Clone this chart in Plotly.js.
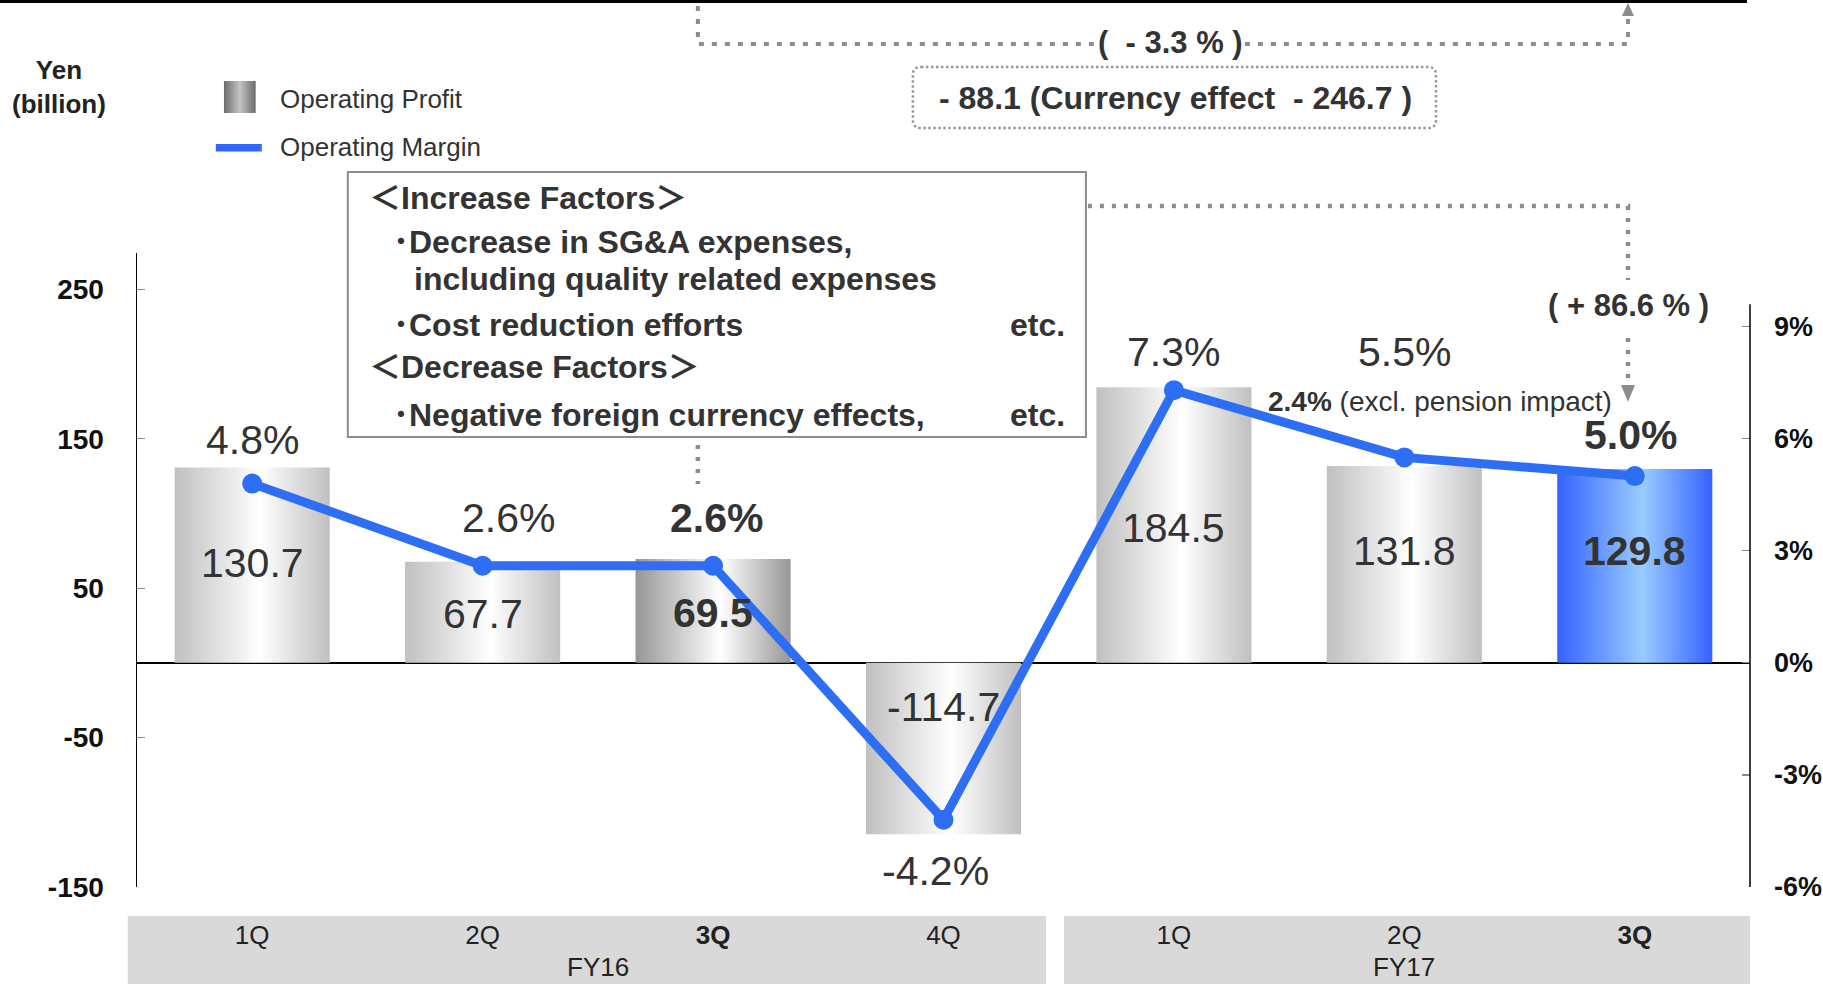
<!DOCTYPE html>
<html>
<head>
<meta charset="utf-8">
<script src="https://cdn.plot.ly/plotly-3.0.1.min.js"></script>
<style>
  html, body { margin: 0; padding: 0; background: #ffffff; }
  #chart { width: 1823px; height: 984px; }
</style>
</head>
<body>
<div id="chart"></div>
<script>
// ---------------- DATA ----------------
const quarters = ['1Q', '2Q', '3Q', '4Q', '1Q', '2Q', '3Q'];
const fiscalYears = ['FY16', 'FY16', 'FY16', 'FY16', 'FY17', 'FY17', 'FY17'];
const operatingProfit = [130.7, 67.7, 69.5, -114.7, 184.5, 131.8, 129.8];
const operatingMargin = [4.8, 2.6, 2.6, -4.2, 7.3, 5.5, 5.0];
const leftTickValues = [-150, -50, 50, 150, 250];
const rightTickValues = [-6, -3, 0, 3, 6, 9];
const factorLines = [
  '＜Increase Factors＞',
  '･Decrease in SG&A expenses,',
  'including quality related expenses',
  '･Cost reduction efforts',
  '＜Decrease Factors＞',
  '･Negative foreign currency effects,'
];
const yoyChangeText = '(\u00a0\u00a0- 3.3 %\u00a0)';
const currencyText = '- 88.1 (Currency effect\u00a0\u00a0- 246.7 )';
const qoqChangeText = '( + 86.6 % )';
const pensionText = '<b>2.4%</b> (excl. pension impact)';

// ---------------- LAYOUT HELPERS ----------------
const L = 137.2, R = 1750, T = 253, B = 887;
const px = x => (x - L) / (R - L);
const py = y => (B - y) / (B - T);
const FONT = 'Liberation Sans, Arial, Helvetica, sans-serif';
const CJKFONT = 'Liberation Sans, Arial, Noto Sans CJK JP, sans-serif';
const TXT = '#333333';
const LINE_BLUE = '#2d6ef5';
const DOT_GREY = '#8c8c8c';
const isHighlight = quarters.map(q => q === '3Q');

// style-only offsets for labels (pixels)
const profitLabelShift = [2, -2, -2, 42, -3, 13, 15];
const marginLabelShiftY = [44, 48, 48, -51, 38, 105, 41];
const marginLabelShiftX = [0, 26, 3, -8, 0, 0, -4];

const Y_RANGE = [-150, 274.3];
const RATIO = 25; // 25 yen billion per 1%

const xIdx = quarters.map((_, i) => i);

const traces = [
  {
    type: 'bar',
    x: xIdx,
    y: operatingProfit,
    width: 0.673,
    marker: { color: quarters.map((q, i) => i === 6 ? '#5b8cff' : (isHighlight[i] ? '#b0b0b0' : '#d6d6d6')), line: { width: 0 } },
    hoverinfo: 'skip',
    showlegend: false
  },
  {
    type: 'scatter',
    mode: 'lines+markers',
    x: xIdx,
    y: operatingMargin,
    yaxis: 'y2',
    line: { color: LINE_BLUE, width: 9 },
    marker: { color: LINE_BLUE, size: 20 },
    hoverinfo: 'skip',
    showlegend: false,
    cliponaxis: false
  }
];

// ---------------- SHAPES ----------------
function roundRectPath(x0, y0, x1, y1, r) {
  const P = (x, y) => px(x) + ',' + py(y);
  return 'M' + P(x0 + r, y0) + ' L' + P(x1 - r, y0) + ' Q' + P(x1, y0) + ' ' + P(x1, y0 + r) +
    ' L' + P(x1, y1 - r) + ' Q' + P(x1, y1) + ' ' + P(x1 - r, y1) +
    ' L' + P(x0 + r, y1) + ' Q' + P(x0, y1) + ' ' + P(x0, y1 - r) +
    ' L' + P(x0, y0 + r) + ' Q' + P(x0, y0) + ' ' + P(x0 + r, y0) + ' Z';
}
function pathP(points, close) {
  return points.map((p, i) => (i ? 'L' : 'M') + px(p[0]) + ',' + py(p[1])).join(' ') + (close ? ' Z' : '');
}

const shapes = [
  // slide header line
  { type: 'line', xref: 'paper', yref: 'paper', x0: px(0), x1: px(1747), y0: py(1.5), y1: py(1.5), line: { color: '#000', width: 3 } },
  // category bands
  { type: 'rect', xref: 'paper', yref: 'paper', x0: px(128), x1: px(1046), y0: py(916), y1: py(984), fillcolor: '#d9d9d9', line: { width: 0 }, layer: 'below' },
  { type: 'rect', xref: 'paper', yref: 'paper', x0: px(1064), x1: px(1750), y0: py(916), y1: py(984), fillcolor: '#d9d9d9', line: { width: 0 }, layer: 'below' },
  // right axis line
  { type: 'line', xref: 'paper', yref: 'y2', x0: 1, x1: 1, y0: -6, y1: 9.6, line: { color: '#000', width: 1.5 } },
  // YoY bracket
  { type: 'path', xref: 'paper', yref: 'paper', path: pathP([[698, 6], [698, 44], [1628, 44], [1628, 15]]), line: { color: DOT_GREY, width: 4, dash: '5px,8px' } },
  { type: 'path', xref: 'paper', yref: 'paper', path: pathP([[1622, 16], [1628, 3], [1634, 16]], true), fillcolor: DOT_GREY, line: { width: 0 } },
  // currency box
  { type: 'path', xref: 'paper', yref: 'paper', path: roundRectPath(913, 67, 1436, 128, 8), line: { color: '#999999', width: 2.5, dash: '2.5px,2.5px' } },
  // factors box
  { type: 'rect', xref: 'paper', yref: 'paper', x0: px(348), x1: px(1086), y0: py(172), y1: py(437), fillcolor: '#ffffff', line: { color: '#8c8c8c', width: 2 } },
  // connector from box to FY17 3Q
  { type: 'path', xref: 'paper', yref: 'paper', path: pathP([[1088, 206], [1628, 206], [1628, 280]]), line: { color: DOT_GREY, width: 4.5, dash: '4px,8px' } },
  { type: 'path', xref: 'paper', yref: 'paper', path: pathP([[1628, 338], [1628, 386]]), line: { color: DOT_GREY, width: 4.5, dash: '4px,8px' } },
  { type: 'path', xref: 'paper', yref: 'paper', path: pathP([[1621, 385], [1635, 385], [1628, 402]], true), fillcolor: DOT_GREY, line: { width: 0 } },
  // connector from box to FY16 3Q
  { type: 'path', xref: 'paper', yref: 'paper', path: pathP([[698, 445], [698, 484]]), line: { color: DOT_GREY, width: 4.5, dash: '4px,8px' } },
  // legend line symbol
  { type: 'rect', xref: 'paper', yref: 'paper', x0: px(216), x1: px(262), y0: py(144), y1: py(151.5), fillcolor: '#3366ff', line: { width: 0 } }
];

// ---------------- ANNOTATIONS ----------------
const ann = [];
function addText(text, x, y, opts) {
  ann.push(Object.assign({
    text: text, xref: 'paper', yref: 'paper', x: px(x), y: py(y),
    showarrow: false, xanchor: 'center', yanchor: 'middle',
    font: { family: FONT, size: 26, color: TXT }
  }, opts || {}));
}
addText('<b>Yen<br>(billion)</b>', 59, 87, { font: { family: FONT, size: 26, color: '#222' } });
addText('Operating Profit', 278, 99, { xanchor: 'left' });
addText('Operating Margin', 278, 147, { xanchor: 'left' });
addText('<b>' + yoyChangeText + '</b>', 1171, 42, { font: { family: FONT, size: 31, color: TXT }, bgcolor: '#ffffff', borderpad: 0 });
addText('<b>' + currencyText + '</b>', 1176, 98, { font: { family: FONT, size: 32, color: TXT } });
addText('<b>' + qoqChangeText + '</b>', 1629, 305, { font: { family: FONT, size: 31, color: TXT } });
addText(pensionText, 1266, 401, { xanchor: 'left', font: { family: FONT, size: 28, color: TXT } });

const factorX = [367, 391, 412, 391, 367, 391];
const factorY = [198, 242, 279, 325, 367, 415];
factorLines.forEach((t, i) => {
  addText('<b>' + t + '</b>', factorX[i], factorY[i], { xanchor: 'left', font: { family: CJKFONT, size: 32, color: TXT } });
});
addText('<b>etc.</b>', 1067, 325, { xanchor: 'right', font: { family: FONT, size: 32, color: TXT } });
addText('<b>etc.</b>', 1067, 415, { xanchor: 'right', font: { family: FONT, size: 32, color: TXT } });

// bar value labels
operatingProfit.forEach((v, i) => {
  ann.push({
    xref: 'x', yref: 'y', x: i, y: v / 2, yshift: profitLabelShift[i],
    text: isHighlight[i] ? '<b>' + v.toFixed(1) + '</b>' : v.toFixed(1),
    showarrow: false, xanchor: 'center', yanchor: 'middle',
    font: { family: FONT, size: 41, color: TXT }
  });
});
// margin labels
operatingMargin.forEach((m, i) => {
  const t = m.toFixed(1) + '%';
  ann.push({
    xref: 'x', yref: 'y2', x: i, y: m, yshift: marginLabelShiftY[i], xshift: marginLabelShiftX[i],
    text: isHighlight[i] ? '<b>' + t + '</b>' : t,
    showarrow: false, xanchor: 'center', yanchor: 'middle',
    font: { family: FONT, size: 41, color: TXT }
  });
});
// fiscal year labels
[...new Set(fiscalYears)].forEach(fy => {
  const idx = xIdx.filter(i => fiscalYears[i] === fy);
  const mid = (idx[0] + idx[idx.length - 1]) / 2;
  ann.push({
    xref: 'x', yref: 'paper', x: fy === 'FY17' ? idx[1] : mid, y: py(967),
    text: fy, showarrow: false, xanchor: 'center', yanchor: 'middle',
    font: { family: FONT, size: 26, color: '#222' }
  });
});

// legend bar symbol as an SVG image
const legendSvg = "<svg xmlns='http://www.w3.org/2000/svg' width='32' height='32'><defs><linearGradient id='a' x1='0' x2='1' y1='0' y2='0'><stop offset='0' stop-color='#6a6a6a'/><stop offset='0.5' stop-color='#c4c4c4'/><stop offset='1' stop-color='#6a6a6a'/></linearGradient></defs><rect width='32' height='32' fill='url(#a)'/></svg>";

const layout = {
  width: 1823, height: 984,
  margin: { l: 137, r: 73, t: 253, b: 97, pad: 0 },
  paper_bgcolor: '#ffffff', plot_bgcolor: 'rgba(0,0,0,0)',
  showlegend: false,
  font: { family: FONT, color: TXT },
  xaxis: {
    range: [-0.5, 6.5], showgrid: false, zeroline: false, showline: false, ticks: '',
    tickmode: 'array', tickvals: xIdx,
    ticktext: quarters.map((q, i) => isHighlight[i] ? '<b>' + q + '</b>' : q),
    tickfont: { family: FONT, size: 26, color: '#222' },
    ticklabelstandoff: 30, fixedrange: true
  },
  yaxis: {
    range: Y_RANGE, showgrid: false, zeroline: true, zerolinecolor: '#000', zerolinewidth: 1.5,
    showline: true, linecolor: '#000', linewidth: 1.5,
    ticks: 'inside', ticklen: 8, tickcolor: '#888', tickwidth: 1.2,
    tickmode: 'array', tickvals: leftTickValues, ticktext: leftTickValues.map(String),
    tickfont: { family: FONT, size: 28, color: '#111', weight: 'bold' },
    ticklabelstandoff: 26, fixedrange: true
  },
  yaxis2: {
    overlaying: 'y', side: 'right',
    range: Y_RANGE.map(v => v / RATIO), showgrid: false, zeroline: false, showline: false,
    ticks: 'inside', ticklen: 8, tickcolor: '#888', tickwidth: 1.2,
    tickmode: 'array', tickvals: rightTickValues, ticktext: rightTickValues.map(v => v + '%'),
    tickfont: { family: FONT, size: 27, color: '#111', weight: 'bold' },
    ticklabelstandoff: 23, fixedrange: true
  },
  shapes: shapes,
  annotations: ann,
  images: [{
    source: 'data:image/svg+xml;charset=utf-8,' + encodeURIComponent(legendSvg),
    xref: 'paper', yref: 'paper', x: px(224), y: py(81),
    sizex: 32 / (R - L), sizey: 32 / (B - T), xanchor: 'left', yanchor: 'top',
    sizing: 'stretch', layer: 'above'
  }]
};

Plotly.newPlot('chart', traces, layout, { staticPlot: true, displayModeBar: false }).then(gd => {
  const NS = 'http://www.w3.org/2000/svg';
  const svg = gd.querySelector('.main-svg');
  let defs = svg.querySelector('defs');
  if (!defs) { defs = document.createElementNS(NS, 'defs'); svg.insertBefore(defs, svg.firstChild); }
  function grad(id, stops) {
    const g = document.createElementNS(NS, 'linearGradient');
    g.setAttribute('id', id);
    g.setAttribute('x1', '0'); g.setAttribute('x2', '1'); g.setAttribute('y1', '0'); g.setAttribute('y2', '0');
    stops.forEach(s => {
      const st = document.createElementNS(NS, 'stop');
      st.setAttribute('offset', s[0]); st.setAttribute('stop-color', s[1]);
      g.appendChild(st);
    });
    defs.appendChild(g);
  }
  grad('gradGrey', [[0, '#c0c0c0'], [0.55, '#ffffff'], [1, '#c0c0c0']]);
  grad('gradDark', [[0, '#969696'], [0.55, '#ffffff'], [1, '#969696']]);
  grad('gradBlue', [[0, '#3562ff'], [0.55, '#99ccff'], [1, '#3562ff']]);
  const paths = gd.querySelectorAll('.barlayer .trace .point path');
  paths.forEach((p, i) => {
    let id = 'gradGrey';
    if (isHighlight[i]) id = fiscalYears[i] === 'FY17' ? 'gradBlue' : 'gradDark';
    p.style.fill = 'url(#' + id + ')';
  });
});
</script>
</body>
</html>
